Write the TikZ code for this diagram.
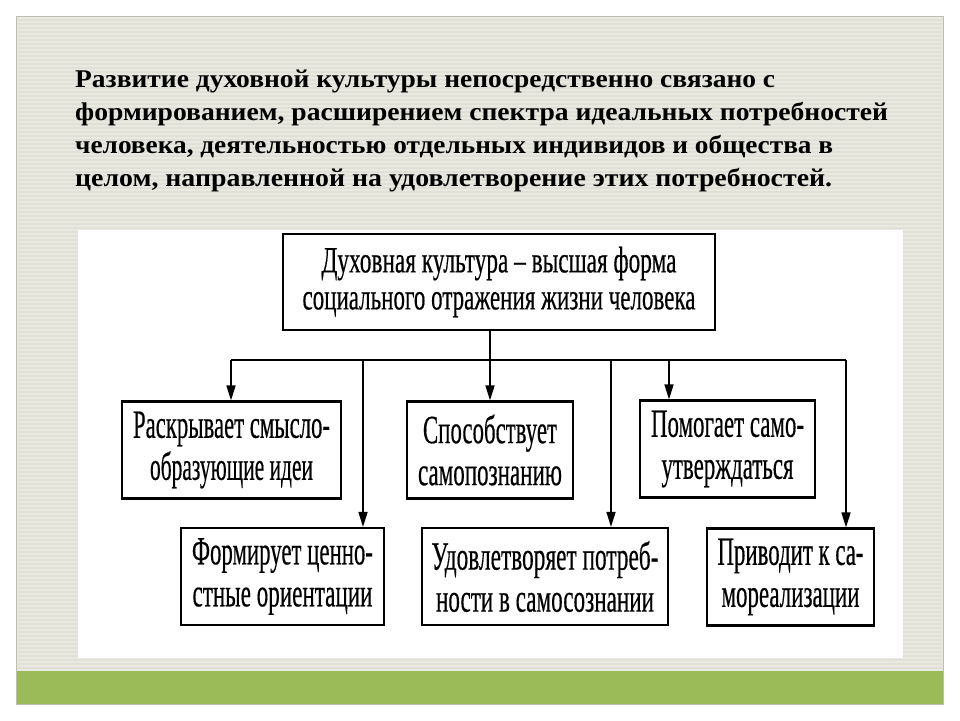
\documentclass[tikz,border=0pt]{standalone}
\usepackage{fontspec}
\setmainfont{Liberation Serif}
\newfontfamily\boxfont[FakeBold=0.5]{Liberation Serif}
\usepackage{graphicx}
\usetikzlibrary{arrows.meta}
\definecolor{slidebg}{RGB}{224,224,215}
\definecolor{slidestripe}{RGB}{233,233,226}
\definecolor{slidegreen}{RGB}{155,187,89}
\definecolor{slideedge}{RGB}{188,190,176}
\newsavebox\fitbox
\newcommand\fitw[2]{\sbox\fitbox{#2}\pgfmathsetmacro\fitr{#1/\the\wd\fitbox}\scalebox{\fitr}[1]{\usebox\fitbox}}
\begin{document}
\begin{tikzpicture}[x=1pt,y=-1pt,
  titleline/.style={anchor=base west, inner sep=0pt, font=\fontsize{25.5}{30}\selectfont\bfseries},
  cbox/.style={draw=black, line width=2.2pt, inner sep=0pt, align=center},
  rowbox/.style={cbox, minimum height=97, font=\boxfont\fontsize{40}{42}\selectfont},
  topbox/.style={cbox, minimum height=96, font=\boxfont\fontsize{37}{37}\selectfont},
  conn/.style={line width=1.6pt},
  arr/.style={conn, -{Triangle[length=15pt,width=9pt]}}
]
\useasboundingbox (0,0) rectangle (960,720);
\fill[white] (0,0) rectangle (960,720);
% slide
\fill[slidebg] (16,16) rectangle (943,704);
\foreach \yy in {18,22,...,670} \draw[slidestripe, line width=1.3pt] (16,\yy) -- (943,\yy);
\fill[slidegreen] (16,671) rectangle (943,704);
\draw[slideedge, line width=0.8pt] (16,16) rectangle (943,704);
\fill[white] (78,230) rectangle (903,658);
% title text
\node[titleline] (t1) at (75,87.5) {\fitw{700}{Развитие духовной культуры непосредственно связано с}};
\node[titleline] (t2) at (75,120.5) {\fitw{813}{формированием, расширением спектра идеальных потребностей}};
\node[titleline] (t3) at (75,153.5) {\fitw{758}{человека, деятельностью отдельных индивидов и общества в}};
\node[titleline] (t4) at (75,186.5) {\fitw{757}{целом, направленной на удовлетворение этих потребностей.}};
% boxes
\node[topbox, minimum width=432] (top) at (499,282) {\fitw{355}{Духовная культура – высшая форма}\\\fitw{393}{социального отражения жизни человека}};
\node[rowbox, minimum width=219] (A) at (231.5,450) {\fitw{197}{Раскрывает смысло-}\\\fitw{163}{образующие идеи}};
\node[rowbox, minimum width=166] (B) at (490,450) {\fitw{134}{Способствует}\\\fitw{144}{самопознанию}};
\node[rowbox, minimum width=175] (C) at (727.5,449) {\fitw{153}{Помогает само-}\\\fitw{132}{утверждаться}};
\node[rowbox, minimum width=203] (D) at (282.5,576.5) {\fitw{181}{Формирует ценно-}\\\fitw{180}{стные ориентации}};
\node[rowbox, minimum width=246] (E) at (545,576.5) {\fitw{227}{Удовлетворяет потреб-}\\\fitw{218}{ности в самосознании}};
\node[rowbox, minimum width=167] (F) at (790.5,577) {\fitw{146}{Приводит к са-}\\\fitw{138}{мореализации}};
% bus
\coordinate (jA) at (231,360);
\coordinate (jD) at (363,360);
\coordinate (jB) at (490,360);
\coordinate (jE) at (611,360);
\coordinate (jC) at (669,360);
\coordinate (jF) at (846,360);
\draw[conn] (top.south -| jB) -- (jB);
\draw[conn] (jA) -- (jF);
\draw[arr] (jA) -- (jA |- A.north);
\draw[arr] (jB) -- (jB |- B.north);
\draw[arr] (jC) -- (jC |- C.north);
\draw[arr] (jD) -- (jD |- D.north);
\draw[arr] (jE) -- (jE |- E.north);
\draw[arr] (jF) -- (jF |- F.north);
\end{tikzpicture}
\end{document}
